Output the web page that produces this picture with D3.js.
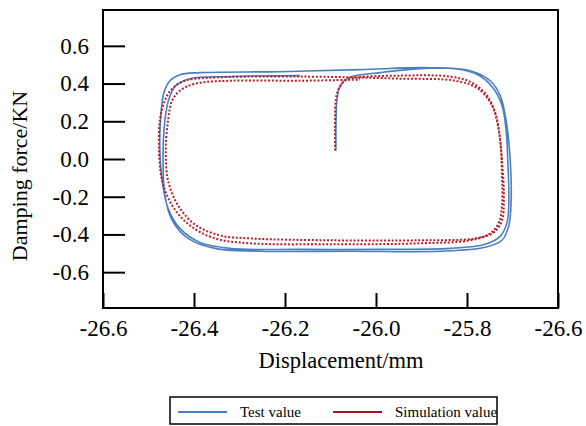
<!DOCTYPE html>
<html><head><meta charset="utf-8">
<script src="https://cdn.jsdelivr.net/npm/d3@7/dist/d3.min.js"></script>
<style>
html,body{margin:0;padding:0;background:#fff;}
</style></head>
<body>
<svg id="chart" width="586" height="426"></svg>
<script>
// ---- data ----
const xTickValues = [-26.6, -26.4, -26.2, -26.0, -25.8, -25.6];
const xTickLabels = ["-26.6", "-26.4", "-26.2", "-26.0", "-25.8", "-26.6"];
const yTickValues = [0.6, 0.4, 0.2, 0.0, -0.2, -0.4, -0.6];
const yTickLabels = ["0.6", "0.4", "0.2", "0.0", "-0.2", "-0.4", "-0.6"];
const seriesNames = ["Test value", "Simulation value"];

const testX = [-26.088,-26.088,-26.086,-26.081,-26.070,-26.053,-25.991,-25.903,-25.826,-25.776,
  -25.743,-25.723,-25.714,-25.710,-25.708,-25.712,-25.727,-25.760,-25.837,-25.991,
  -26.167,-26.321,-26.387,-26.431,-26.457,-26.470,-26.475,-26.473,-26.466,-26.453,
  -26.431,-26.387,-26.211,-26.035,-25.881,-25.793,-25.749,-25.727,-25.714,-25.705,
  -25.703,-25.708,-25.723,-25.760,-25.859,-26.057,-26.255,-26.354,-26.413,-26.448,
  -26.464,-26.468,-26.464,-26.455,-26.440,-26.409,-26.321,-26.167];
const testY = [0.045,0.177,0.310,0.373,0.415,0.437,0.458,0.479,0.479,0.447,
  0.378,0.283,0.151,-0.034,-0.220,-0.336,-0.410,-0.452,-0.474,-0.479,
  -0.479,-0.474,-0.442,-0.368,-0.262,-0.114,0.045,0.230,0.352,0.415,
  0.447,0.458,0.463,0.474,0.484,0.468,0.415,0.336,0.204,-0.008,
  -0.220,-0.352,-0.431,-0.468,-0.489,-0.489,-0.489,-0.474,-0.421,-0.325,
  -0.193,-0.008,0.204,0.320,0.389,0.426,0.437,0.442];

const simX = [-26.090,-26.090,-26.088,-26.081,-26.068,-26.046,-25.947,-25.837,-25.789,-25.756,
  -25.736,-25.727,-25.723,-25.723,-25.730,-25.749,-25.793,-25.903,-26.101,-26.277,
  -26.354,-26.409,-26.448,-26.470,-26.477,-26.475,-26.464,-26.448,-26.420,-26.365,
  -26.167,-25.947,-25.826,-25.776,-25.745,-25.732,-25.723,-25.719,-25.723,-25.741,
  -25.782,-25.903,-26.101,-26.277,-26.343,-26.398,-26.435,-26.457,-26.462,-26.457,
  -26.448,-26.431,-26.398,-26.321,-26.167,-26.035];
const simY = [0.045,0.204,0.320,0.378,0.415,0.431,0.442,0.437,0.405,0.336,
  0.230,0.098,-0.087,-0.246,-0.336,-0.394,-0.431,-0.447,-0.452,-0.447,
  -0.421,-0.352,-0.246,-0.114,0.045,0.204,0.310,0.373,0.415,0.431,
  0.437,0.426,0.415,0.373,0.283,0.177,-0.008,-0.220,-0.325,-0.389,
  -0.421,-0.431,-0.431,-0.421,-0.405,-0.347,-0.246,-0.114,0.045,0.204,
  0.310,0.362,0.399,0.415,0.415,0.421];

// ---- chart ----
const FONT = "Liberation Serif";
const svg = d3.select("#chart");
const L = 103, R = 558, T = 10, B = 308;
const x = d3.scaleLinear().domain([-26.6, -25.6]).range([L, R]);
const y = d3.scaleLinear().domain([-0.79, 0.79]).range([B, T]);

const fontTick = 23;

// curves
const line = d3.line().x(d => x(d[0])).y(d => y(d[1])).curve(d3.curveCatmullRom.alpha(0.5));
const testData = d3.zip(testX, testY);
const simData = d3.zip(simX, simY);

const blue = "#4a7fc0", red = "#b3202b";
svg.append("path").datum(testData).attr("d", line)
  .attr("fill", "none").attr("stroke", blue).attr("stroke-width", 1.6);
svg.append("path").datum(simData).attr("d", line)
  .attr("fill", "none").attr("stroke", red).attr("stroke-width", 2)
  .attr("stroke-dasharray", "2,1.8");

// axes
const xAxis = d3.axisBottom(x).tickValues(xTickValues)
  .tickFormat((d, i) => xTickLabels[i]).tickSizeInner(-15).tickSizeOuter(0).tickPadding(12);
const yAxis = d3.axisLeft(y).tickValues(yTickValues)
  .tickFormat((d, i) => yTickLabels[i]).tickSizeInner(-22).tickSizeOuter(0).tickPadding(14);

const gx = svg.append("g").attr("transform", `translate(0,${B})`).call(xAxis);
const gy = svg.append("g").attr("transform", `translate(${L},0)`).call(yAxis);
[gx, gy].forEach(g => {
  g.attr("font-family", null).attr("font-size", null);
  g.select(".domain").remove();
  g.selectAll(".tick line").attr("stroke", "#000").attr("stroke-width", 2);
  g.selectAll(".tick text").attr("fill", "#000")
    .style("font-family", FONT).style("font-size", fontTick + "px");
});

// frame
svg.append("rect").attr("x", L).attr("y", T).attr("width", R - L).attr("height", B - T)
  .attr("fill", "none").attr("stroke", "#000").attr("stroke-width", 2);

// axis titles
svg.append("text").attr("x", 341).attr("y", 368)
  .attr("text-anchor", "middle").style("font-family", FONT).style("font-size", "22.5px")
  .text("Displacement/mm");
svg.append("text").attr("transform", "translate(27,176) rotate(-90)")
  .attr("text-anchor", "middle").style("font-family", FONT).style("font-size", "22px")
  .text("Damping force/KN");

// legend
const lg = svg.append("g");
lg.append("rect").attr("x", 170).attr("y", 397).attr("width", 327).attr("height", 27)
  .attr("fill", "#fff").attr("stroke", "#000").attr("stroke-width", 1.5);
const legendColors = [blue, "#a5141f"];
const legendX = [178, 333];
seriesNames.forEach((name, i) => {
  lg.append("line").attr("x1", legendX[i]).attr("x2", legendX[i] + 49)
    .attr("y1", 412).attr("y2", 412).attr("stroke", legendColors[i]).attr("stroke-width", 2);
  lg.append("text").attr("x", legendX[i] + 62).attr("y", 417)
    .style("font-family", FONT).style("font-size", "15px").text(name);
});
</script>
</body></html>
